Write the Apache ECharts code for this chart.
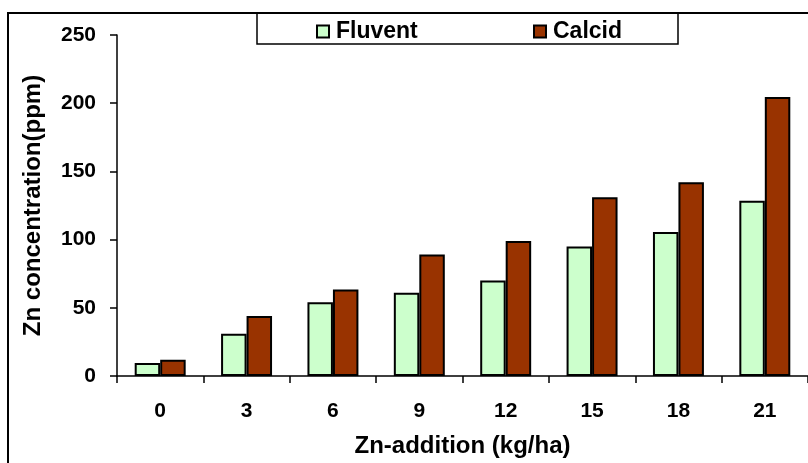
<!DOCTYPE html>
<html lang="en">
<head>
    <meta charset="UTF-8">
    <title>zn-concentration</title>
    <script src="https://cdn.jsdelivr.net/npm/echarts@6.0.0/dist/echarts.min.js"></script>
    <style>
        html, body { margin: 0; padding: 0; background: #fff; }
    </style>
</head>
<body>
<div id="main" style="width: 808px;height:463px;"></div>
<script>
    // Zn addition levels (kg/ha)
    var categories = ['0', '3', '6', '9', '12', '15', '18', '21'];
    // Zn concentration (ppm)
    var fluvent = [9.5, 31, 54, 61, 70, 95, 105.5, 128.5];
    var calcid = [12, 44, 63.5, 89, 99, 131, 142, 204.5];
    var yTicks = [0, 50, 100, 150, 200, 250];

    var font = "'Liberation Sans', Arial, sans-serif";

    var chart = echarts.init(document.getElementById('main'));
    var option = {
        backgroundColor: '#ffffff',
        animation: false,
        graphic: [
            {
                // outer frame
                type: 'rect',
                shape: {x: 8, y: 13, width: 820, height: 470},
                style: {fill: 'none', stroke: '#000', lineWidth: 2}
            },
            {
                // legend box
                type: 'rect',
                shape: {x: 257, y: 13, width: 421, height: 31},
                style: {fill: 'none', stroke: '#000', lineWidth: 1.5}
            }
        ],
        legend: [
            {
                data: ['Fluvent'],
                left: 316,
                top: 20,
                padding: 0,
                icon: 'rect',
                itemWidth: 12,
                itemHeight: 12,
                itemGap: 8,
                textStyle: {fontFamily: font, fontWeight: 'bold', fontSize: 23, color: '#000', padding: [0, 0, 0, 2]}
            },
            {
                data: ['Calcid'],
                left: 533,
                top: 20,
                padding: 0,
                icon: 'rect',
                itemWidth: 12,
                itemHeight: 12,
                textStyle: {fontFamily: font, fontWeight: 'bold', fontSize: 23, color: '#000', padding: [0, 0, 0, 2]}
            }
        ],
        grid: {
            left: 117,
            top: 35,
            width: 704,
            height: 342
        },
        xAxis: {
            type: 'category',
            data: categories,
            name: 'Zn-addition (kg/ha)',
            nameLocation: 'middle',
            nameGap: 58,
            nameTextStyle: {fontFamily: font, fontWeight: 'bold', fontSize: 24, color: '#000'},
            axisLine: {lineStyle: {color: '#000', width: 1.5}},
            axisTick: {show: true, length: 7, lineStyle: {color: '#000', width: 1.5}},
            axisLabel: {fontFamily: font, fontWeight: 'bold', fontSize: 21, color: '#000', margin: 25},
            splitLine: {show: false}
        },
        yAxis: {
            type: 'value',
            min: 0,
            max: 250,
            interval: 50,
            name: 'Zn concentration(ppm)',
            nameLocation: 'middle',
            nameGap: 72,
            nameTextStyle: {fontFamily: font, fontWeight: 'bold', fontSize: 24, color: '#000'},
            axisLine: {show: true, lineStyle: {color: '#000', width: 1.5}},
            axisTick: {show: true, length: 7, lineStyle: {color: '#000', width: 1.5}},
            axisLabel: {
                fontFamily: font, fontWeight: 'bold', fontSize: 21, color: '#000', margin: 21,
                formatter: function (v) { return yTicks.indexOf(v) >= 0 ? String(v) : ''; }
            },
            splitLine: {show: false}
        },
        series: [
            {
                name: 'Fluvent',
                type: 'bar',
                data: fluvent,
                barGap: '0%',
                barCategoryGap: '41%',
                itemStyle: {color: '#ccffcc', borderColor: '#000', borderWidth: 2}
            },
            {
                name: 'Calcid',
                type: 'bar',
                data: calcid,
                barGap: '0%',
                barCategoryGap: '41%',
                itemStyle: {color: '#993300', borderColor: '#000', borderWidth: 2}
            }
        ]
    };
    chart.setOption(option);
</script>
</body>
</html>
